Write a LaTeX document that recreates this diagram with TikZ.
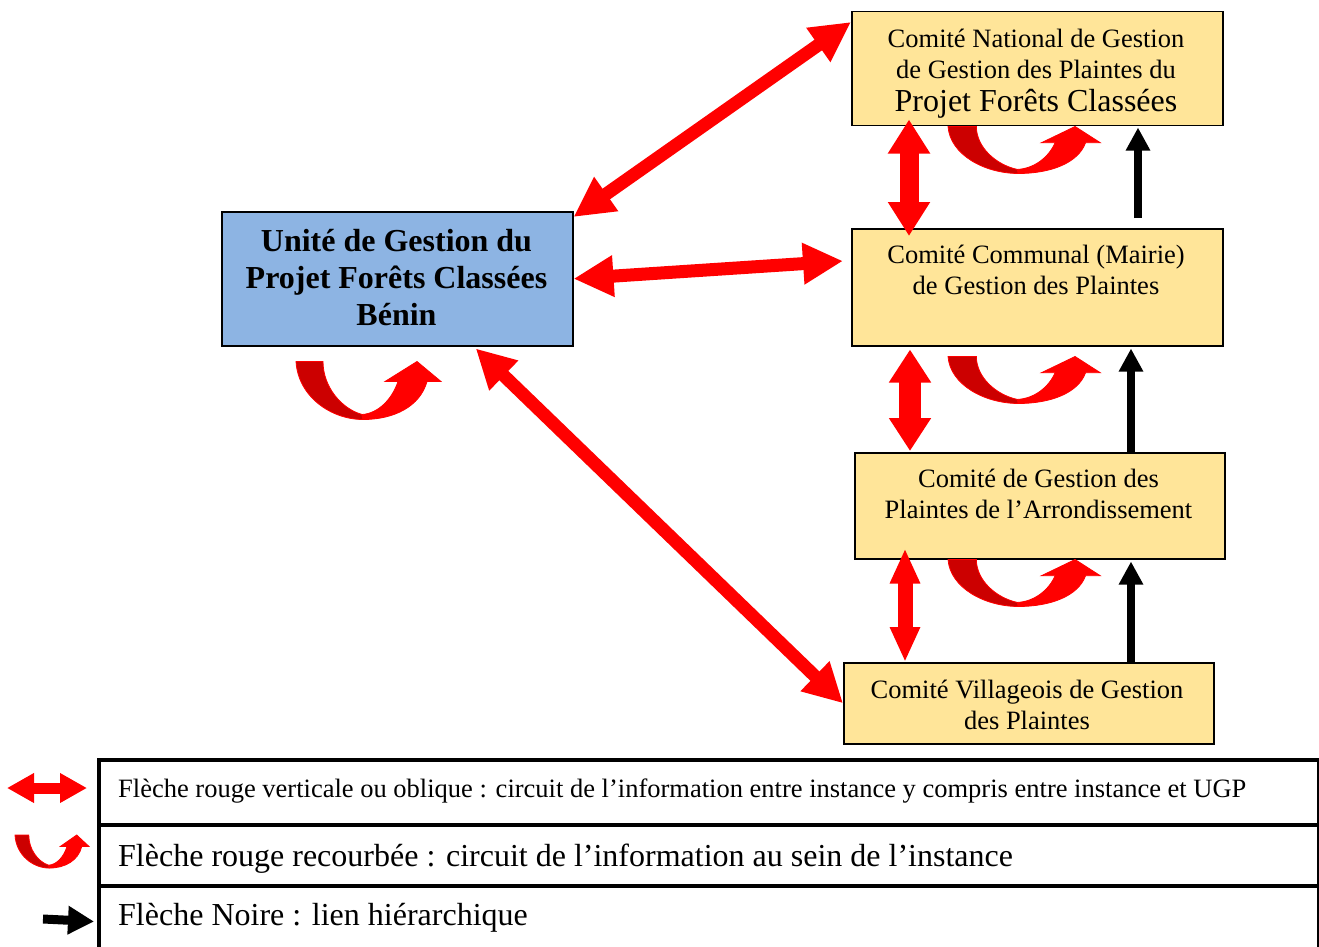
\documentclass[tikz,border=0pt]{standalone}
\usepackage{fontspec}
\setmainfont{Liberation Serif}
\usetikzlibrary{arrows.meta,calc}
\definecolor{boxyel}{RGB}{255,229,153}
\definecolor{boxblue}{RGB}{141,180,227}
\definecolor{darkred}{RGB}{204,0,0}
\tikzset{
  ybox/.style={draw=black, line width=1.5pt, fill=boxyel, anchor=north west, inner sep=0pt},
  bbox/.style={draw=black, line width=1.5pt, fill=boxblue, anchor=north west, inner sep=0pt},
  btxt/.style={align=center, inner sep=0pt, font=\fontsize{26.5}{31}\selectfont},
  utxt/.style={align=center, inner sep=0pt, font=\bfseries\fontsize{32}{37}\selectfont},
  dbl/.style n args={3}{draw=red, line width=#1, {Triangle[width=#2,length=#3]}-{Triangle[width=#2,length=#3]}},
  blk/.style n args={3}{draw=black, line width=#1, -{Triangle[width=#2,length=#3]}},
  lrow/.style={draw=black, line width=4pt, anchor=north west, minimum width=1220pt, inner sep=0pt},
  ltxt/.style={anchor=west, inner sep=0pt},
  lsmall/.style={font=\fontsize{26.5}{31}\selectfont},
  lbig/.style={font=\fontsize{32}{36}\selectfont},
  curv/.pic={
    \filldraw[fill=darkred, draw=red, line width=0.8pt] (0,0) .. controls (2,35) and (35,58) .. (67,58) -- (66,53) .. controls (45,47) and (27,25) .. (27,0) -- cycle;
    \filldraw[fill=red, draw=red, line width=0.8pt] (66,53) .. controls (82,52) and (96,38) .. (102,20) -- (89,20) -- (121,0) -- (145,20) -- (131,20) .. controls (124,45) and (98,58) .. (67,58) -- cycle;
  }
}
\begin{document}
\begin{tikzpicture}[x=1pt,y=-1pt]
\useasboundingbox (0,0) rectangle (1319,947);
% boxes
\node[ybox, minimum width=371pt, minimum height=114pt] (nat) at (851,11) {};
\node[ybox, minimum width=371pt, minimum height=117pt] (comm) at (851,228) {};
\node[ybox, minimum width=370pt, minimum height=106pt] (arr) at (854,452) {};
\node[ybox, minimum width=370pt, minimum height=81pt] (vil) at (843,662) {};
\node[bbox, minimum width=351pt, minimum height=134pt] (ugp) at (221,211) {};
% texts
\node[btxt] (natT) at (1036,74) {Comité National de Gestion\\de Gestion des Plaintes du\\[2pt]{\fontsize{32}{32}\selectfont Projet Forêts Classées}};
\node[btxt] (commT) at (1036,270) {Comité Communal (Mairie)\\de Gestion des Plaintes};
\node[btxt] (arrT) at (1038.5,494) {Comité de Gestion des\\Plaintes de l’Arrondissement};
\node[btxt] (vilT) at (1027,705) {Comité Villageois de Gestion\\des Plaintes};
\node[utxt] (ugpT) at (396.5,278) {Unité de Gestion du\\Projet Forêts Classées\\Bénin};
% red double arrows
\draw[dbl={13pt}{39pt}{40pt}] ($(ugp.north east)+(0,6)$) -- ($(nat.north west)+(0,11)$);
\draw[dbl={13pt}{39pt}{40pt}] (ugp.east) -- ($(comm.north west)+(-8,33)$);
\draw[dbl={13pt}{39pt}{39pt}] ($(ugp.south)+(78.5,2)$) -- (vil.west);
\draw[dbl={19pt}{40pt}{34pt}] ($(nat.south west)+(58,-7)$) -- ($(comm.north west)+(58,8)$);
\draw[dbl={22pt}{40pt}{33pt}] ($(comm.south west)+(59,3)$) -- ($(arr.north west)+(56,-1)$);
\draw[dbl={15pt}{28pt}{35pt}] ($(arr.south west)+(51,-11)$) -- ($(vil.north west)+(62,0)$);
% black arrows
\draw[blk={8pt}{23pt}{23pt}] ($(comm.north west)+(287,-10)$) -- ($(nat.south west)+(287,1)$);
\draw[blk={8pt}{23pt}{23pt}] ($(arr.north west)+(277,0)$) -- ($(comm.south west)+(280,2)$);
\draw[blk={8pt}{23pt}{23pt}] ($(vil.north west)+(288,0)$) -- ($(arr.south west)+(277,2)$);
% curved arrows
\pic[xscale=1.05,yscale=0.81] at ($(nat.south west)+(97,0)$) {curv};
\pic[xscale=1.05,yscale=0.81] at ($(comm.south west)+(97,10)$) {curv};
\pic[xscale=1.05,yscale=0.81] at ($(arr.south west)+(94,0)$) {curv};
\pic at ($(ugp.south west)+(75,15)$) {curv};
% legend
\node[lrow, minimum height=65pt] (leg1) at (97,758) {};
\node[lrow, minimum height=61pt] (leg2) at (97,823) {};
\node[lrow, minimum height=64pt] (leg3) at (97,884) {};
\node[ltxt, lsmall] (leg1T) at (118,791) {Flèche rouge verticale ou oblique : circuit de l’information entre instance y compris entre instance et UGP};
\node[ltxt, lbig] (leg2T) at (118,859) {Flèche rouge recourbée : circuit de l’information au sein de l’instance};
\node[ltxt, lbig] (leg3T) at (118,918) {Flèche Noire : lien hiérarchique};
\coordinate (l1a) at (7,788);
\coordinate (l1b) at (87,788);
\draw[dbl={11pt}{28pt}{27pt}] (l1a) -- (l1b);
\pic[xscale=0.51,yscale=0.57] at (15,835) {curv};
\coordinate (l3a) at (43,919);
\draw[blk={9pt}{27pt}{26pt}] (l3a) -- ($(leg3.west)+(-3,3.5)$);
\end{tikzpicture}
\end{document}
